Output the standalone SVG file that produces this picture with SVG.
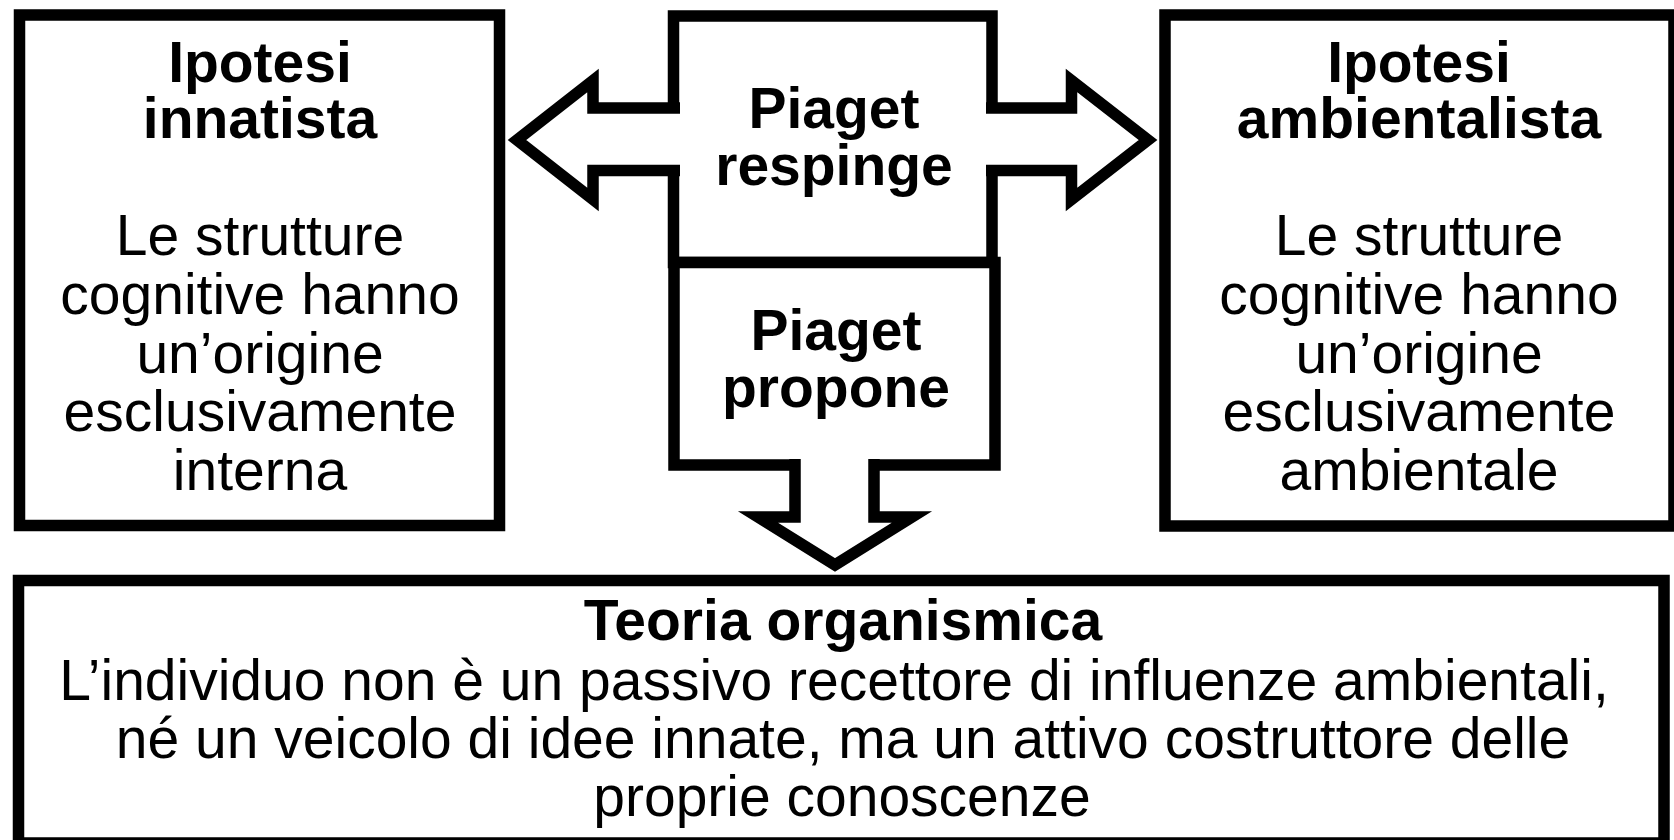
<svg xmlns="http://www.w3.org/2000/svg" width="1674" height="840" viewBox="0 0 1674 840">
<style>
.box{fill:#fff;stroke:#000;stroke-width:11.5;stroke-linejoin:miter}
.arr{fill:#fff;stroke:#000;stroke-width:11.5;stroke-linejoin:miter;stroke-miterlimit:10}
text{font-family:"Liberation Sans",Arial,Helvetica,sans-serif;font-size:57px;fill:#000;text-anchor:middle}
.b{font-weight:bold}
</style>
<rect width="1674" height="840" fill="#fff"/>
<g id="node-innatista">
<rect class="box" x="19.5" y="15" width="480" height="510.5"/>
<text class="b"><tspan x="260" y="82">Ipotesi</tspan><tspan x="260" y="138">innatista</tspan></text>
<text><tspan x="260" y="255">Le strutture</tspan><tspan x="260" y="314">cognitive hanno</tspan><tspan x="260" y="373">un’origine</tspan><tspan x="260" y="431">esclusivamente</tspan><tspan x="260" y="490">interna</tspan></text>
</g>
<g id="node-ambientalista">
<rect class="box" x="1165" y="15" width="509" height="511"/>
<text class="b"><tspan x="1419" y="82">Ipotesi</tspan><tspan x="1419" y="138">ambientalista</tspan></text>
<text><tspan x="1419" y="255">Le strutture</tspan><tspan x="1419" y="314">cognitive hanno</tspan><tspan x="1419" y="373">un’origine</tspan><tspan x="1419" y="431">esclusivamente</tspan><tspan x="1419" y="490">ambientale</tspan></text>
</g>
<g id="node-teoria">
<rect class="box" x="18.5" y="580.5" width="1645.5" height="262.5"/>
<text class="b" x="843" y="640">Teoria organismica</text>
<text><tspan x="834" y="700">L’individuo non è un passivo recettore di influenze ambientali,</tspan><tspan x="843" y="758">né un veicolo di idee innate, ma un attivo costruttore delle</tspan><tspan x="842" y="816">proprie conoscenze</tspan></text>
</g>
<g id="node-respinge">
<rect class="box" x="673.5" y="16" width="318.5" height="246.5"/>
</g>
<g id="node-propone">
<rect class="box" x="674" y="262.5" width="321" height="202.5"/>
</g>
<g id="connectors">
<path class="arr" d="M680 108 L593 108 L593 80.5 L517 140 L593 199.5 L593 170.5 L680 170.5"/>
<path class="arr" d="M986 108 L1071.5 108 L1071.5 80.5 L1148 140 L1071.5 199.5 L1071.5 170.5 L986 170.5"/>
<path class="arr" d="M795 459 L795 517 L758 517 L835 565 L912 517 L874 517 L874 459"/>
</g>
<g id="labels">
<text class="b"><tspan x="834" y="128">Piaget</tspan><tspan x="834" y="185">respinge</tspan></text>
<text class="b"><tspan x="836" y="350">Piaget</tspan><tspan x="836" y="407">propone</tspan></text>
</g>
</svg>
